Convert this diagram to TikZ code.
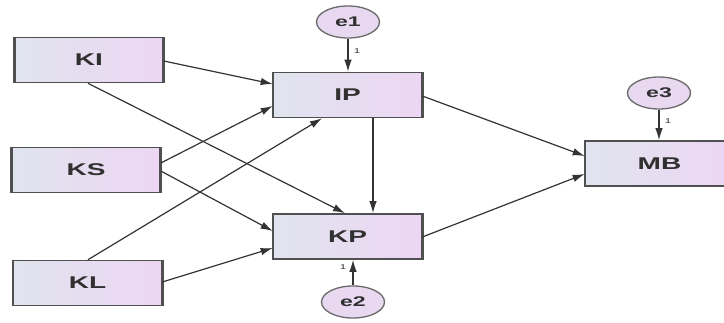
\documentclass[tikz,border=0pt]{standalone}
\usepackage{graphicx}
\usepackage{fontspec}
\setmainfont{Liberation Sans}
\usetikzlibrary{arrows.meta,shapes.geometric}
\definecolor{bleft}{HTML}{E0E4EE}
\definecolor{bright}{HTML}{EDD6F3}
\definecolor{efill}{HTML}{E8D9F1}
\definecolor{edge}{HTML}{505050}
\definecolor{txt}{HTML}{303030}
\newcommand{\wtext}[1]{\scalebox{1.65}[1]{#1}}
\begin{document}
\begin{tikzpicture}[x=1pt,y=-1pt,
  var/.style={draw=edge,line width=1.6pt,left color=bleft,right color=bright,
    minimum width=148pt,minimum height=45pt,inner sep=0pt,
    font=\fontsize{17}{17}\selectfont\bfseries,text=txt},
  err/.style={draw=edge!85,line width=1.3pt,fill=efill,ellipse,
    minimum width=63pt,minimum height=32pt,inner sep=0pt,
    font=\fontsize{14}{14}\selectfont\bfseries,text=txt},
  side/.style={draw=edge,line width=2.4pt},
  conn/.style={draw=black!80,line width=1.2pt,-{Latex[length=12pt,width=7.5pt]}},
  one/.style={font=\fontsize{7}{7}\selectfont,text=txt,inner sep=0pt}]
\clip (0,0) rectangle (724,323);
\fill[white] (0,0) rectangle (724,323);
\node[var] (KI) at (89,60) {\wtext{KI}};
\node[var] (KS) at (86,170) {\wtext{KS}};
\node[var] (KL) at (87.5,283) {\wtext{KL}};
\node[var] (IP) at (347.5,95) {\wtext{IP}};
\node[var] (KP) at (347.5,236.5) {\wtext{KP}};
\node[var] (MB) at (659.5,163.5) {\wtext{MB}};
\foreach \n in {KI,KS,KL,IP,KP,MB}{
  \draw[side] (\n.north west) -- (\n.south west);
  \draw[side] (\n.north east) -- (\n.south east);
}
\node[err] (e1) at (348,22) {\wtext{e1}};
\node[err] (e2) at (353,302) {\wtext{e2}};
\node[err] (e3) at (659,93) {\wtext{e3}};
% connectors
\draw[conn] (KI.east |- 0,61) -- (IP.west |- 0,84);
\draw[conn] (KI.south -| 88,0) -- (KP.north -| 345,0);
\draw[conn] (KS.east |- 0,163) -- (IP.west |- 0,106);
\draw[conn] (KS.east |- 0,171) -- (KP.west |- 0,231);
\draw[conn] (KL.north -| 88,0) -- (IP.south -| 322,0);
\draw[conn] (KL.east |- 0,282) -- (KP.west |- 0,248);
\draw[conn] (IP.south -| 373,0) -- (KP.north -| 373,0);
\draw[conn] (IP.east |- 0,96) -- (MB.west |- 0,156);
\draw[conn] (KP.east |- 0,237) -- (MB.west |- 0,174);
\draw[conn] (e1) -- (IP.north -| e1);
\draw[conn] (e2) -- (KP.south -| e2);
\draw[conn] (e3) -- (MB.north -| e3);
\node[one] (l1) at (357,51) {\wtext{1}};
\node[one] (l2) at (343,267) {\wtext{1}};
\node[one] (l3) at (668,121) {\wtext{1}};
\end{tikzpicture}
\end{document}
